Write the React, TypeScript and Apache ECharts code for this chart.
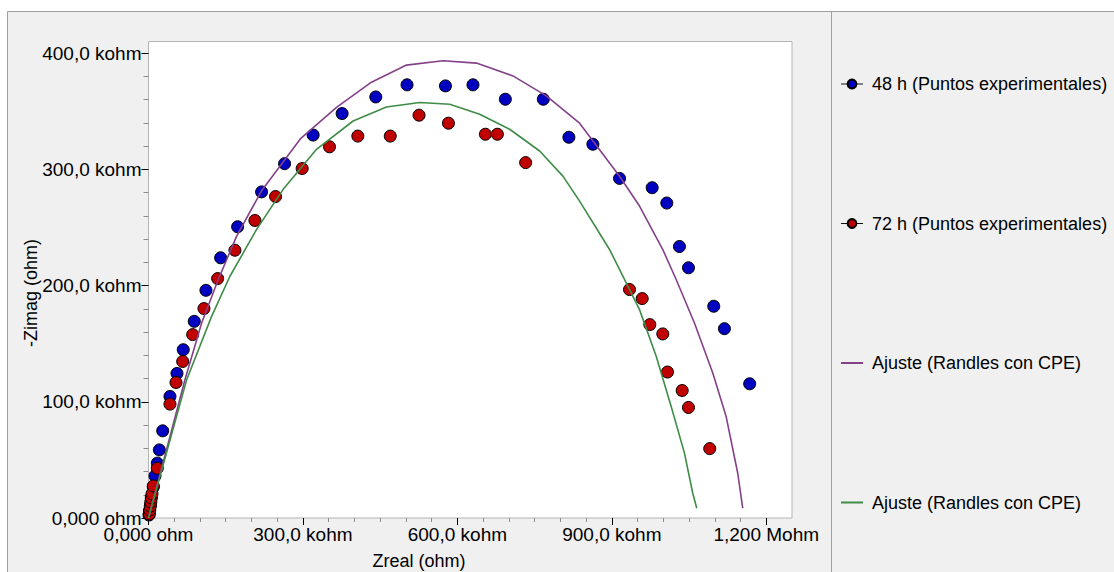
import React, { useEffect, useRef } from 'react';
import * as echarts from 'echarts';

// ---- Data (kohm) ----
const h48Zreal = [1.0, 1.9, 3.9, 5.8, 9.3, 12.6, 17.1, 21.0, 27.6, 41.7, 55.3, 67.5, 88.9, 111.6, 140.1, 173.1, 219.7, 264.3, 319.8, 376.1, 441.5, 502.2, 576.8, 630.3, 693.2, 766.9, 816.6, 863.2, 915.0, 978.4, 1006.8, 1031.4, 1048.9, 1098.0, 1118.7, 1167.8];
const h48Zimag = [2.6, 6.0, 11.2, 18.1, 26.7, 36.2, 47.2, 58.6, 75.0, 104.6, 124.4, 144.8, 169.2, 195.9, 223.9, 250.6, 280.6, 304.9, 329.5, 348.0, 362.3, 372.7, 371.8, 372.7, 360.3, 360.3, 327.6, 321.6, 292.2, 284.2, 271.0, 233.6, 215.3, 182.2, 162.9, 115.5];

const h72Zreal = [1.6, 2.5, 3.5, 4.5, 5.4, 6.8, 9.3, 17.1, 41.7, 53.4, 66.4, 85.8, 107.7, 134.3, 167.9, 206.7, 246.8, 298.5, 351.6, 406.6, 469.6, 525.5, 582.6, 654.4, 677.7, 732.6, 934.4, 959.0, 973.8, 999.0, 1008.2, 1036.7, 1048.9, 1090.2];
const h72Zimag = [3.4, 6.9, 10.3, 13.8, 17.2, 20.7, 27.6, 42.8, 98.0, 116.6, 134.7, 157.8, 180.2, 206.0, 230.4, 256.0, 276.6, 300.7, 319.4, 328.6, 328.6, 346.6, 339.7, 330.2, 330.2, 305.8, 196.6, 188.8, 166.4, 158.4, 125.6, 109.7, 95.1, 59.7];

const fit48Zreal = [0, 70.8, 103.2, 135.5, 171.2, 219.7, 296.0, 365.2, 433.1, 501.1, 572.1, 636.9, 707.9, 772.7, 837.4, 915.0, 953.8, 999.0, 1025.0, 1060.5, 1096.1, 1122.1, 1144.6, 1154.3];
const fit48Zimag = [0, 119.0, 167.8, 205.2, 242.5, 281.5, 326.7, 353.4, 375.0, 389.7, 393.4, 391.4, 380.4, 363.2, 339.7, 294.0, 268.4, 231.0, 205.2, 167.8, 124.7, 87.3, 38.5, 8.4];

const fit72Zreal = [0, 74.1, 122.6, 158.2, 210.0, 261.6, 326.4, 397.4, 462.2, 526.9, 585.1, 643.3, 701.5, 759.8, 805.0, 837.4, 895.6, 918.3, 953.8, 986.2, 1015.3, 1041.1, 1057.2, 1065.0];
const fit72Zimag = [0, 119.0, 173.5, 208.0, 248.3, 282.8, 317.2, 341.6, 353.6, 357.5, 356.0, 347.4, 334.5, 315.8, 294.2, 272.7, 231.0, 211.0, 179.3, 139.1, 96.0, 55.8, 21.3, 8.4];

const xTickValues = [0, 300, 600, 900, 1200];
const xTickLabels = ['0,000 ohm', '300,0 kohm', '600,0 kohm', '900,0 kohm', '1,200 Mohm'];
const yTickValues = [0, 100, 200, 300, 400];
const yTickLabels = ['0,000 ohm', '100,0 kohm', '200,0 kohm', '300,0 kohm', '400,0 kohm'];

const seriesNames = ['48 h (Puntos experimentales)', '72 h (Puntos experimentales)', 'fit48', 'fit72'];
const legendLabels = ['48 h (Puntos experimentales)', '72 h (Puntos experimentales)', 'Ajuste (Randles con CPE)', 'Ajuste (Randles con CPE)'];

const xAxisTitle = 'Zreal (ohm)';
const yAxisTitle = '-Zimag (ohm)';

const FONT = "'Liberation Sans', Arial, sans-serif";

function zip(a: number[], b: number[]) {
  return a.map((v, i) => [v, b[i]]);
}

function minorValues(major: number[], step: number, max: number) {
  const out: number[] = [];
  for (let v = 0; v <= max + 1e-9; v += step) {
    if (!major.some((m) => Math.abs(m - v) < 1e-6)) out.push(Math.round(v * 1000) / 1000);
  }
  return out;
}

export default function App() {
  const ref = useRef<HTMLDivElement>(null);
  useEffect(() => {
    if (!ref.current) return;
    const chart = echarts.init(ref.current, null, { renderer: 'svg' });
    const xMax = 1250;
    const yMax = 410;
    const xMinor = minorValues(xTickValues, 50, 1200);
    const yMinor = minorValues(yTickValues, 20, 400);

    const blue = '#0000c0';
    const red = '#c00000';
    const purple = '#84418a';
    const green = '#3f8c47';

    const option: any = {
      animation: false,
      backgroundColor: '#ffffff',
      textStyle: { fontFamily: FONT },
      graphic: [
        {
          type: 'rect',
          z: -10,
          silent: true,
          shape: { x: 7.5, y: 11.5, width: 1130, height: 620 },
          style: { fill: '#f0f0f0', stroke: '#a0a0a0', lineWidth: 1 },
        },
        {
          type: 'line',
          z: -9,
          silent: true,
          shape: { x1: 831.5, y1: 11.5, x2: 831.5, y2: 572 },
          style: { stroke: '#a0a0a0', lineWidth: 1 },
        },
        {
          type: 'text',
          x: 419,
          y: 561,
          style: { text: xAxisTitle, fill: '#000', font: `18px ${FONT}`, align: 'center', verticalAlign: 'middle' },
        },
        {
          type: 'text',
          x: 31,
          y: 293,
          rotation: Math.PI / 2,
          style: { text: yAxisTitle, fill: '#000', font: `18px ${FONT}`, align: 'center', verticalAlign: 'middle' },
        },
      ],
      grid: {
        left: 148.5,
        top: 41.5,
        right: 322,
        bottom: 54,
        show: true,
        backgroundColor: '#ffffff',
        borderColor: '#b4b4b4',
        borderWidth: 1,
        containLabel: false,
        outerBoundsMode: 'none',
      },
      legend: {
        orient: 'vertical',
        left: 835,
        top: 69,
        itemGap: 119.5,
        itemWidth: 22,
        itemHeight: 11,
        selectedMode: false,
        textStyle: { fontSize: 18, color: '#000', lineHeight: 20, fontFamily: FONT, padding: [0, 0, 0, 4] },
        formatter: (name: string) => {
          const i = seriesNames.indexOf(name);
          return i >= 0 ? legendLabels[i] : name;
        },
        data: [
          { name: seriesNames[0], lineStyle: { width: 1, color: '#111' } },
          { name: seriesNames[1], lineStyle: { width: 1, color: '#111' } },
          { name: seriesNames[2], itemStyle: { opacity: 0 }, lineStyle: { width: 2 } },
          { name: seriesNames[3], itemStyle: { opacity: 0 }, lineStyle: { width: 2 } },
        ],
      },
      xAxis: [
        {
          type: 'value',
          min: 0,
          max: xMax,
          axisLine: { show: false, onZero: false },
          splitLine: { show: false },
          axisTick: { show: true, customValues: xTickValues, length: 7, lineStyle: { color: '#000' } },
          axisLabel: {
            customValues: xTickValues,
            formatter: (v: number) => {
              const i = xTickValues.indexOf(Math.round(v));
              return i >= 0 ? xTickLabels[i] : '';
            },
            fontSize: 19,
            color: '#000',
            fontFamily: FONT,
            margin: 7,
          },
        },
        {
          type: 'value',
          position: 'bottom',
          min: 0,
          max: xMax,
          axisLine: { show: false, onZero: false },
          splitLine: { show: false },
          axisTick: { show: true, customValues: xMinor, length: 4, lineStyle: { color: '#8c8c8c' } },
          axisLabel: { show: false },
        },
      ],
      yAxis: [
        {
          type: 'value',
          min: 0,
          max: yMax,
          axisLine: { show: false, onZero: false },
          splitLine: { show: false },
          axisTick: { show: true, customValues: yTickValues, length: 7, lineStyle: { color: '#000' } },
          axisLabel: {
            customValues: yTickValues,
            formatter: (v: number) => {
              const i = yTickValues.indexOf(Math.round(v));
              return i >= 0 ? yTickLabels[i] : '';
            },
            fontSize: 19,
            color: '#000',
            fontFamily: FONT,
            margin: 7,
          },
        },
        {
          type: 'value',
          position: 'left',
          min: 0,
          max: yMax,
          axisLine: { show: false, onZero: false },
          splitLine: { show: false },
          axisTick: { show: true, customValues: yMinor, length: 5, lineStyle: { color: '#8c8c8c' } },
          axisLabel: { show: false },
        },
      ],
      series: [
        {
          name: seriesNames[0],
          type: 'line',
          data: zip(h48Zreal, h48Zimag),
          symbol: 'circle',
          symbolSize: 12,
          showSymbol: true,
          showAllSymbol: true,
          lineStyle: { width: 0, color: '#111' },
          itemStyle: { color: blue, borderColor: '#000', borderWidth: 1 },
          z: 2,
        },
        {
          name: seriesNames[1],
          type: 'line',
          data: zip(h72Zreal, h72Zimag),
          symbol: 'circle',
          symbolSize: 12,
          showSymbol: true,
          showAllSymbol: true,
          lineStyle: { width: 0, color: '#111' },
          itemStyle: { color: red, borderColor: '#000', borderWidth: 1 },
          z: 3,
        },
        {
          name: seriesNames[2],
          type: 'line',
          data: zip(fit48Zreal, fit48Zimag),
          symbol: 'none',
          lineStyle: { width: 1.6, color: purple },
          itemStyle: { color: purple },
          z: 4,
        },
        {
          name: seriesNames[3],
          type: 'line',
          data: zip(fit72Zreal, fit72Zimag),
          symbol: 'none',
          lineStyle: { width: 1.6, color: green },
          itemStyle: { color: green },
          z: 5,
        },
      ],
    };
    chart.setOption(option);
    return () => chart.dispose();
  }, []);
  return <div ref={ref} style={{ position: 'fixed', left: 0, top: 0, width: 1114, height: 572 }} />;
}
